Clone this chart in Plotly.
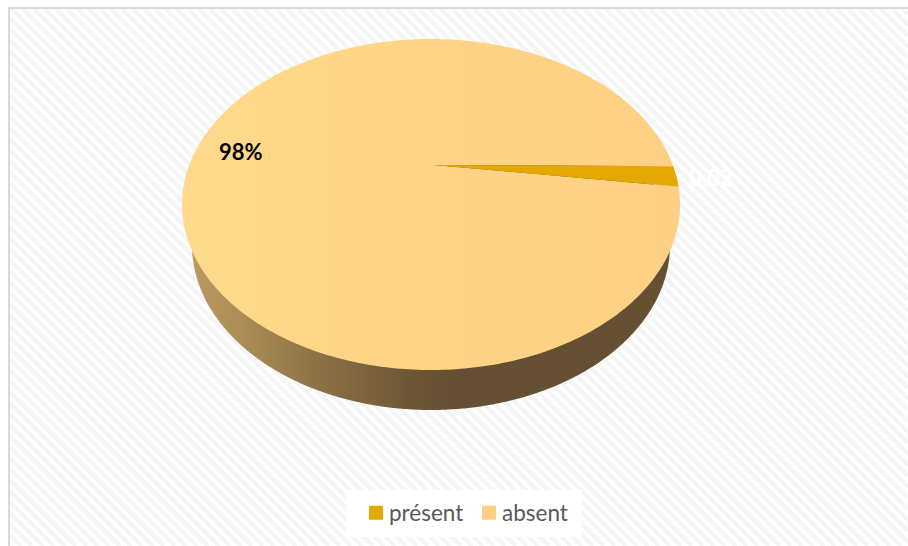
import numpy as np
import plotly.graph_objects as go

labels = ["présent", "absent"]
values = [0.02, 0.98]
slice_colors = ["#E3A900", "#FFCF84"]
label_texts = ["0.02", "98%"]

W, H = 908, 546
CX, CY, RX, RY = 431, 204.5, 249, 165.5
APEX = (434, 165)
START_DEG = 6.2
WALL_CY, WALL_RX, WALL_RY = 245, 239, 165

def rim(a0, a1, n=360):
    t = np.radians(np.linspace(a0, a1, n))
    return CX + RX * np.cos(t), CY - RY * np.sin(t)

def wedge(a0, a1):
    x, y = rim(a0, a1)
    return np.r_[APEX[0], x, APEX[0]], np.r_[APEX[1], y, APEX[1]]

fig = go.Figure()

# diagonal background stripes
sx, sy = [], []
L, T = 10, 9
for c in range(L - H, W - T + 1, 11):
    x0 = max(L, c + T)
    x1 = min(W, c + H)
    if x1 > x0:
        sx += [x0, x1, None]
        sy += [x0 - c, x1 - c, None]
fig.add_trace(go.Scatter(x=sx, y=sy, mode="lines", line=dict(color="#F5F5F5", width=4.5),
                         hoverinfo="skip", showlegend=False))

# side wall
t = np.radians(np.linspace(0, 360, 721))
fig.add_trace(go.Scatter(
    x=CX + WALL_RX * np.cos(t), y=WALL_CY - WALL_RY * np.sin(t),
    mode="none", fill="toself",
    fillgradient=dict(type="horizontal", colorscale=[
        [0, "#BB9A60"], [0.1, "#AD8D56"], [0.25, "#8F7446"], [0.45, "#6E5735"],
        [0.55, "#655033"], [1, "#655033"]]),
    hoverinfo="skip", showlegend=False))

# top surface slices, sweep taken from the values
sweep = [v / sum(values) * 360 for v in values]
x, y = wedge(START_DEG + sweep[0], START_DEG + 360)
fig.add_trace(go.Scatter(
    x=x, y=y, mode="none", fill="toself",
    fillgradient=dict(type="horizontal", colorscale=[[0, "#FFDA8C"], [0.45, "#FFD486"], [1, "#FED085"]]),
    hoverinfo="skip", showlegend=False))
x, y = wedge(START_DEG, START_DEG + sweep[0])
fig.add_trace(go.Scatter(x=x, y=y, mode="none", fill="toself", fillcolor=slice_colors[0],
                         hoverinfo="skip", showlegend=False))

# legend entries
for name, col in zip(labels, slice_colors):
    fig.add_trace(go.Scatter(x=[None], y=[None], mode="markers", name=name,
                             marker=dict(symbol="square", size=14, color=col)))

fig.update_layout(
    width=W, height=H, margin=dict(l=0, r=0, t=0, b=0),
    paper_bgcolor="white", plot_bgcolor="white",
    xaxis=dict(range=[0, W], visible=False, fixedrange=True),
    yaxis=dict(range=[H, 0], visible=False, fixedrange=True),
    legend=dict(orientation="h", x=349 / W, xanchor="left", y=1 - 513 / H, yanchor="middle",
                bgcolor="rgba(0,0,0,0)", font=dict(family="Lato", size=22.5, color="#595959"),
                entrywidth=68, entrywidthmode="pixels"),
    shapes=[
        dict(type="rect", xref="x", yref="y", x0=346, x1=582, y0=490, y1=537,
             fillcolor="white", line=dict(width=0), layer="above"),
        dict(type="line", xref="x", yref="y", x0=9, x1=9, y0=8, y1=H,
             line=dict(color="#D9D9D9", width=2), layer="above"),
        dict(type="line", xref="x", yref="y", x0=8, x1=W, y0=8, y1=8,
             line=dict(color="#D9D9D9", width=2), layer="above"),
    ],
    annotations=[
        dict(x=241, y=151, xref="x", yref="y", text=f"<b>{label_texts[1]}</b>", showarrow=False,
             font=dict(family="Lato", size=22, color="black")),
        dict(x=711, y=177, xref="x", yref="y", text=f"<b>{label_texts[0]}</b>", showarrow=False,
             font=dict(family="Lato", size=22, color="white")),
    ],
)
post = """
document.body.style.margin = '0';
document.documentElement.style.overflow = 'hidden';
document.querySelectorAll('.legendsymbols').forEach(function (g) {
    g.setAttribute('transform', 'translate(7,0)');
});
"""
fig.write_html("out.html", config=dict(displayModeBar=False), post_script=post)
